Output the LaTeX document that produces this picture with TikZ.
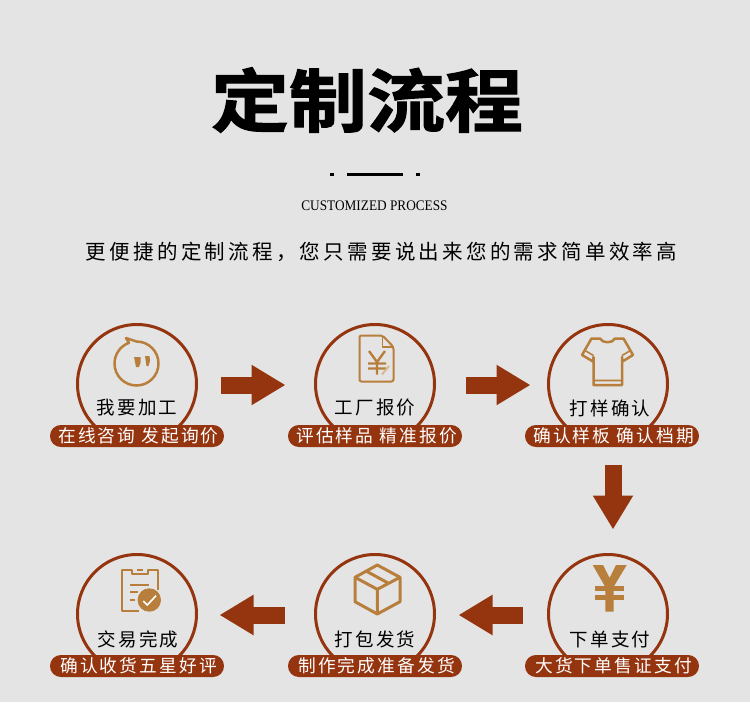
\documentclass[tikz,border=0pt]{standalone}
\usepackage{xcolor}
\usepackage{fontspec}
\usepackage{tikz}
\usetikzlibrary{arrows.meta, positioning}
\setmainfont{Liberation Serif}[FakeStretch=0.91]
\newfontfamily\cjktitle{Noto Sans CJK SC Bold}[FakeBold=1.5]
\newfontfamily\cjkline{Noto Sans CJK SC}[LetterSpace=16]
\newfontfamily\cjkstep{Noto Sans CJK SC}[LetterSpace=12]
\definecolor{rust}{HTML}{953510}
\definecolor{ochre}{HTML}{B87F3C}
\definecolor{paper}{HTML}{E4E4E4}

\begin{document}
\begin{tikzpicture}[
  x=1pt, y=-1pt,
  stepcircle/.style={draw=rust, circle, line width=3pt, minimum size=119pt, inner sep=0pt, outer sep=0pt},
  steplabel/.style={font=\cjkstep\fontsize{18.5}{20}\selectfont, text=black, inner sep=0pt},
  steppill/.style={fill=rust, rounded corners=10.9pt, minimum width=174pt, minimum height=22pt,
                   inner sep=0pt, text=white, font=\cjkstep\fontsize{17.7}{20}\selectfont,
                   execute at begin node={\hskip 3pt}},
  flow/.style={-{Triangle[length=34pt, width=38pt]}, rust, line width=17pt},
  iconline/.style={draw=ochre, line width=2.5pt, line join=round},
  iconthin/.style={draw=ochre, line width=1.6pt, line join=round}
]
  \fill[paper] (0,0) rectangle (750,702);
  \useasboundingbox (0,0) rectangle (750,702);

  \node[font=\cjktitle\fontsize{78}{80}\selectfont, inner sep=0pt, yscale=.88, transform shape] (title) at (367,100) {定制流程};
  \node[fill=black, minimum size=3.5pt, inner sep=0pt] (dotl) at (332,174.5) {};
  \node[fill=black, minimum size=3.5pt, inner sep=0pt] (dotr) at (418,174.5) {};
  \node[fill=black, minimum width=56pt, minimum height=2.5pt, inner sep=0pt] (rule) at (375,174.5) {};
  \node[font=\fontsize{14.6}{16}\selectfont, inner sep=0pt] (eng) at (374.5,205.5) {CUSTOMIZED PROCESS};
  \node[font=\cjkline\fontsize{20.5}{22}\selectfont, inner sep=0pt] (slogan) at (381.5,252) {更便捷的定制流程，您只需要说出来您的需求简单效率高};

  \node[stepcircle] (ask) at (137,384) {};
  \node[stepcircle] (quote) [right=119pt of ask] {};
  \node[stepcircle] (sample) [right=114pt of quote] {};
  \node[stepcircle] (pay) [below=111pt of sample] {};
  \node[stepcircle] (pack) [below=111pt of quote] {};
  \node[stepcircle] (done) [below=111pt of ask] {};

  \node[steplabel] (askl) at ([yshift=-24pt]ask.center) {我要加工};
  \node[steplabel] (quotel) at ([yshift=-24pt]quote.center) {工厂报价};
  \node[steplabel] (samplel) at ([xshift=2pt, yshift=-24pt]sample.center) {打样确认};
  \node[steplabel] (payl) at ([xshift=2pt, yshift=-25pt]pay.center) {下单支付};
  \node[steplabel] (packl) at ([yshift=-25pt]pack.center) {打包发货};
  \node[steplabel] (donel) at ([xshift=1pt, yshift=-25pt]done.center) {交易完成};

  \node[steppill] (askp) at ([yshift=-52pt]ask.center) {在线咨询 发起询价};
  \node[steppill] (quotep) at ([yshift=-52pt]quote.center) {评估样品 精准报价};
  \node[steppill] (samplep) at ([xshift=4pt, yshift=-52pt]sample.center) {确认样板 确认档期};
  \node[steppill] (payp) at ([xshift=4pt, yshift=-52pt]pay.center) {大货下单售证支付};
  \node[steppill] (packp) at ([yshift=-52pt]pack.center) {制作完成准备发货};
  \node[steppill] (donep) at ([yshift=-52pt]done.center) {确认收货五星好评};

  \draw[flow, shorten <=24pt, shorten >=30pt] ([yshift=-1pt]ask.east) -- ([yshift=-1pt]quote.west);
  \draw[flow, shorten <=31pt, shorten >=18pt] ([yshift=-1pt]quote.east) -- ([yshift=-1pt]sample.west);
  \draw[flow, shorten <=21pt, shorten >=25pt] ([xshift=5pt]sample.south) -- ([xshift=5pt]pay.north);
  \draw[flow, shorten <=26pt, shorten >=24pt] ([yshift=-1pt]pay.west) -- ([yshift=-1pt]pack.east);
  \draw[flow, shorten <=31pt, shorten >=23pt] ([yshift=-1pt]pack.west) -- ([yshift=-1pt]done.east);

  \draw[iconline] (126,338) -- (136.5,341.5) arc[start angle=-90, end angle=250, radius=22] -- cycle;
  \fill[ochre] (134,357) -- (140.5,357) -- (140.5,363) -- (139,367) -- (136,367) -- cycle;
  \fill[ochre] (145,356) -- (149.5,356) -- (150,361) -- (148.5,366) -- (146.5,366) -- cycle;

  \draw[iconline, line width=2pt, rounded corners=2pt] (382.5,335.5) -- (359.5,335.5) -- (359.5,381.5) -- (393.5,381.5) -- (393.5,347) -- cycle;
  \draw[iconthin] (382.5,335.5) -- (382.5,347) -- (393.5,347);
  \draw[iconline, line width=2.4pt] (369,351) -- (377,362) -- (385,351) (377,362) -- (377,374.5) (368,363.5) -- (386,363.5) (368,368.5) -- (386,368.5);
  \draw[ochre!55, line width=2pt] (389,366) -- (382,374.5);

  \draw[iconline] (600,338.5) .. controls (602,343.5) and (613,343.5) .. (615,338.5) -- (623.5,338.5) -- (633,355) -- (622.5,361.5) -- (622,357) -- (622,385) -- (593.5,385) -- (593.5,357) -- (593,361.5) -- (582,355) -- (591.5,338.5) -- cycle;
  \draw[iconthin] (593.5,380.5) -- (622,380.5) (622,355.5) -- (630.5,350.5) (593.5,355.5) -- (585,350.5);

  \fill[ochre] (592.7,565) -- (603,565) -- (609.5,578) -- (616,565) -- (626.7,565) -- (613.5,587) -- (613.5,611.7) -- (605.3,611.7) -- (605.3,587) -- cycle;
  \draw[ochre, line width=5pt] (595,588.5) -- (624,588.5) (595,597) -- (624,597);

  \draw[iconline, line width=3pt] (377.3,565) -- (400,577.3) -- (400,601.7) -- (377.3,614) -- (355,601.7) -- (355,577.3) -- cycle;
  \draw[iconline, line width=3pt] (355,577.3) -- (377.3,589.3) -- (400,577.3) (377.3,589.3) -- (377.3,614) (366,571) -- (389,583.5);

  \draw[iconline, line width=2pt] (157.7,590) -- (157.7,569.8) -- (148.3,569.8) -- (148.3,574.3) -- (131.7,574.3) -- (131.7,569.8) -- (122,569.8) -- (122,611) -- (139,611);
  \draw[iconline, line width=2pt] (136.7,570) -- (143.3,570) (130,585) -- (149.3,585) (130,592.3) -- (137.7,592.3) (130,600) -- (135,600);
  \fill[ochre] (149.3,600) circle[radius=11.7];
  \draw[white, line width=1.6pt] (143.3,601) -- (147.3,605) -- (156,595.7);
\end{tikzpicture}
\end{document}
